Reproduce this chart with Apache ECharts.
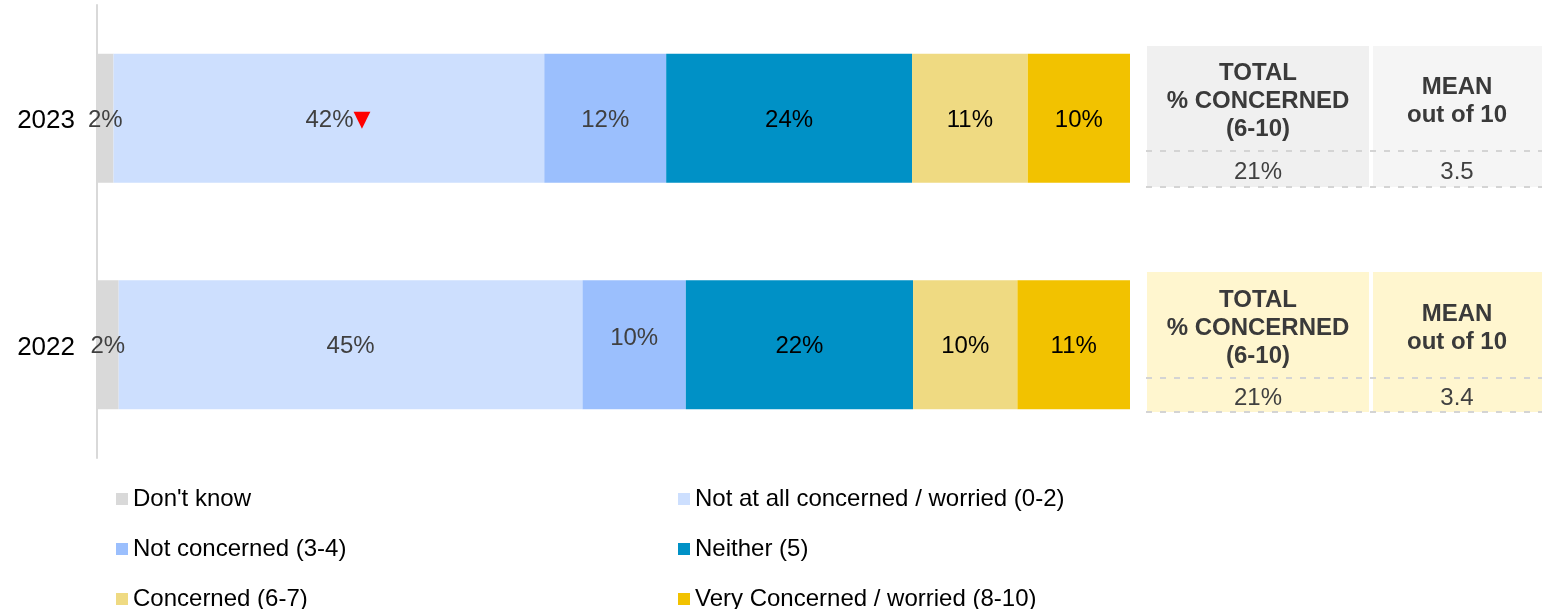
<!DOCTYPE html>
<html style="height: 100%">
<head>
    <meta charset="utf-8">
    <script src="https://cdn.jsdelivr.net/npm/echarts@6/dist/echarts.min.js"></script>
</head>
<body style="height: 100%; margin: 0; background: #fff">
<div id="container" style="width: 1542px; height: 609px;"></div>
<script type="text/javascript">
// categories (top to bottom) and series values in %
var years = ['2023', '2022'];
var seriesNames = [
    "Don't know",
    'Not at all concerned / worried (0-2)',
    'Not concerned (3-4)',
    'Neither (5)',
    'Concerned (6-7)',
    'Very Concerned / worried (8-10)'
];
var dontKnow      = [1.6, 2.1];
var notAtAll      = [41.7, 44.9];
var notConcerned  = [11.8, 10.0];
var neither       = [23.8, 22.0];
var concerned     = [11.2, 10.1];
var veryConcerned = [9.9, 10.9];
// side table values
var totalConcerned = ['21%', '21%'];
var meanScore = ['3.5', '3.4'];

var colors = ['#d9d9d9', '#cddffe', '#9bbffd', '#0091c6', '#efda82', '#f2c200'];
var labelColors = ['#404040', '#404040', '#404040', '#000', '#000', '#000'];
var values = [dontKnow, notAtAll, notConcerned, neither, concerned, veryConcerned];

var dom = document.getElementById('container');
var myChart = echarts.init(dom);
var font = 'Liberation Sans, Arial, sans-serif';

var series = seriesNames.map(function (name, i) {
    return {
        name: name,
        type: 'bar',
        stack: 'total',
        barWidth: 129,
        itemStyle: { color: colors[i] },
        label: {
            show: true,
            position: 'inside',
            offset: [0, 2],
            fontFamily: font,
            fontSize: 24,
            color: labelColors[i],
            formatter: function (p) { return Math.round(p.value) + '%'; }
        },
        data: values[i].map(function (v) { return v; })
    };
});
// significance marker on 2023 "Not at all concerned"
series[1].data[0] = {
    value: notAtAll[0],
    label: {
        offset: [9, 2],
        formatter: function (p) { return Math.round(p.value) + '%{d|▼}'; },
        rich: { d: { fontFamily: 'DejaVu Sans', fontSize: 22, color: '#ff0000' } }
    }
};
// 2022 "Not concerned" label sits a little higher
series[2].data[1] = { value: notConcerned[1], label: { offset: [0, -6] } };

// side tables
var tables = [
    { top: 46, dash1: 151, valY: 172, dash2: 187, bg1: '#f0f0f0', bg2: '#f5f5f5' },
    { top: 272, dash1: 378, valY: 398, dash2: 412, bg1: '#fff6cf', bg2: '#fff6cf' }
];
var graphic = [];
tables.forEach(function (t, i) {
    var h = t.dash2 - t.top;
    graphic.push(
        { type: 'rect', left: 1147, top: t.top, shape: { width: 222, height: h }, style: { fill: t.bg1 }, silent: true },
        { type: 'rect', left: 1373, top: t.top, shape: { width: 169, height: h }, style: { fill: t.bg2 }, silent: true },
        { type: 'line', shape: { x1: 1146, y1: t.dash1, x2: 1542, y2: t.dash1 }, style: { stroke: '#d4d4d4', lineWidth: 2, lineDash: [6, 8] }, silent: true },
        { type: 'line', shape: { x1: 1146, y1: t.dash2, x2: 1542, y2: t.dash2 }, style: { stroke: '#d4d4d4', lineWidth: 2, lineDash: [6, 8] }, silent: true },
        { type: 'text', x: 1258, y: (t.top + t.dash1) / 2 + 3, style: { text: 'TOTAL\n% CONCERNED\n(6-10)', fontFamily: font, fontSize: 24, fontWeight: 'bold', lineHeight: 28, fill: '#3a3a3a', textAlign: 'center', textVerticalAlign: 'middle' } },
        { type: 'text', x: 1457, y: (t.top + t.dash1) / 2 + 3, style: { text: 'MEAN\nout of 10', fontFamily: font, fontSize: 24, fontWeight: 'bold', lineHeight: 28, fill: '#3a3a3a', textAlign: 'center', textVerticalAlign: 'middle' } },
        { type: 'text', x: 1258, y: t.valY, style: { text: totalConcerned[i], fontFamily: font, fontSize: 24, fill: '#404040', textAlign: 'center', textVerticalAlign: 'middle' } },
        { type: 'text', x: 1457, y: t.valY, style: { text: meanScore[i], fontFamily: font, fontSize: 24, fill: '#404040', textAlign: 'center', textVerticalAlign: 'middle' } }
    );
});

var legendBase = {
    orient: 'vertical',
    top: 487,
    height: 200,
    padding: 0,
    itemWidth: 12,
    itemHeight: 12,
    itemGap: 26,
    icon: 'rect',
    selectedMode: false,
    textStyle: { fontFamily: font, fontSize: 24, lineHeight: 24, color: '#000' }
};

var option = {
    animation: false,
    grid: { left: 97, right: 412, top: 5, bottom: 151 },
    legend: [
        Object.assign({ left: 116, data: [seriesNames[0], seriesNames[2], seriesNames[4]] }, legendBase),
        Object.assign({ left: 678, data: [seriesNames[1], seriesNames[3], seriesNames[5]] }, legendBase)
    ],
    xAxis: {
        type: 'value',
        min: 0,
        max: 100,
        show: false
    },
    yAxis: {
        type: 'category',
        inverse: true,
        data: years,
        axisLine: { show: true, lineStyle: { color: '#d9d9d9', width: 2 } },
        axisTick: { show: false },
        axisLabel: {
            margin: 22,
            formatter: '{y|{value}}',
            rich: { y: { fontFamily: font, fontSize: 26, color: '#000', padding: [6, 0, 0, 0] } }
        }
    },
    graphic: graphic,
    series: series
};

myChart.setOption(option);
</script>
</body>
</html>
